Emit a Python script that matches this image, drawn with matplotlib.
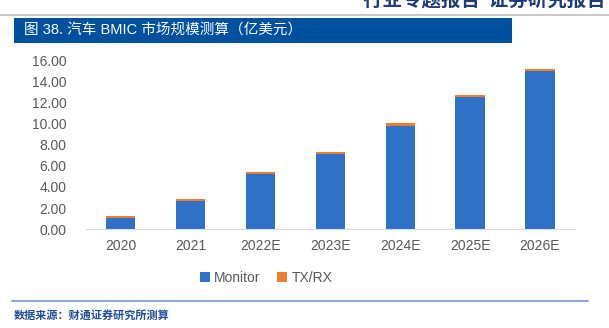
import matplotlib.pyplot as plt
from matplotlib.patches import Rectangle
from matplotlib.lines import Line2D

plt.rcParams['font.family'] = ['Liberation Sans', 'Noto Sans CJK SC', 'DejaVu Sans']

years = ["2020", "2021", "2022E", "2023E", "2024E", "2025E", "2026E"]
monitor = [1.10, 2.70, 5.23, 7.12, 9.80, 12.49, 14.95]
txrx = [0.18, 0.17, 0.16, 0.19, 0.25, 0.21, 0.22]

BLUE = "#2F71C6"
ORANGE = "#ED7D31"

fig = plt.figure(figsize=(6.09, 3.28), dpi=100)
ax = fig.add_axes([0.141, 0.301, 0.803, 0.516])

x = range(len(years))
ax.bar(x, monitor, width=0.42, color=BLUE, label="Monitor")
ax.bar(x, txrx, width=0.42, bottom=monitor, color=ORANGE, label="TX/RX")

ax.set_xlim(-0.5, len(years) - 0.5)
ax.set_ylim(0, 16)
ax.set_yticks(range(0, 17, 2))
ax.set_yticklabels([f"{v:.2f}" for v in range(0, 17, 2)])
ax.set_xticks(list(x))
ax.set_xticklabels(years)
ax.tick_params(axis="both", length=0, labelsize=10, colors="#595959")
ax.tick_params(axis="x", pad=7)
ax.tick_params(axis="y", pad=14)
for side in ["top", "right", "left"]:
    ax.spines[side].set_visible(False)
ax.spines["bottom"].set_color("#D9D9D9")

ax.legend(loc="center", bbox_to_anchor=(0.369, -0.285), ncol=2, frameon=False,
          fontsize=10, handlelength=0.7, handleheight=0.7, handletextpad=0.3,
          columnspacing=1.2, labelcolor="#595959")

# header
fig.text(0.995, 1.0, "行业专题报告  证券研究报告", ha="right", va="center",
         fontsize=14, fontweight="bold", color="#1F3C78",
         family=["Noto Sans CJK SC"])
fig.add_artist(Line2D([0, 1], [1 - 14.7 / 328] * 2, color="#BFBFBF", lw=1.2))
fig.add_artist(Rectangle((14 / 609, 1 - 42.7 / 328), (512 - 14) / 609, 24.4 / 328,
                         facecolor="#0050A0", edgecolor="none"))
fig.text(24 / 609, 1 - 30.5 / 328, "图 38. 汽车 BMIC 市场规模测算（亿美元）",
         ha="left", va="center", fontsize=10.5, color="white")

# source footer
fig.add_artist(Line2D([12 / 609, 588 / 609], [1 - 300.7 / 328] * 2,
                      color="#6C9BD2", lw=1.2))
fig.text(14 / 609, 1 - 315 / 328, "数据来源：财通证券研究所测算", ha="left",
         va="center", fontsize=8, fontweight="bold", color="#1F4E9A",
         family=["Noto Sans CJK SC"])

fig.savefig("out.png", dpi=100)
plt.close(fig)
